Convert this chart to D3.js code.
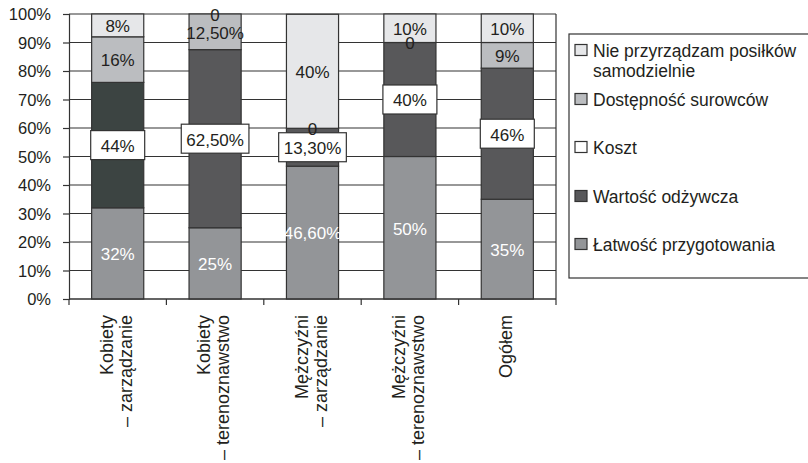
<!DOCTYPE html>
<html>
<head>
<meta charset="utf-8">
<script src="https://cdn.jsdelivr.net/npm/d3@7"></script>
<style>
  body { margin: 0; background: #fff; }
  svg { display: block; font-family: "Liberation Sans", Arial, sans-serif; }
</style>
</head>
<body>
<div id="chart"></div>
<script>
// categories (two-line axis labels)
var categories = ["Kobiety – zarządzanie", "Kobiety – terenoznawstwo", "Mężczyźni – zarządzanie", "Mężczyźni – terenoznawstwo", "Ogółem"];
var categoryLines = [["Kobiety", "– zarządzanie"], ["Kobiety", "– terenoznawstwo"], ["Mężczyźni", "– zarządzanie"], ["Mężczyźni", "– terenoznawstwo"], ["Ogółem"]];

// series values (%), bottom to top
var latwosc = [32, 25, 46.6, 50, 35];
var wartosc = [44, 62.5, 13.3, 40, 46];
var dostepnosc = [16, 12.5, 0, 0, 9];
var nieprzyrzadzam = [8, 0, 40, 10, 10];

var yTicks = [0, 10, 20, 30, 40, 50, 60, 70, 80, 90, 100];

var series = [
    {name: "Łatwość przygotowania", values: latwosc, color: "#939598", text: "#fff"},
    {name: "Wartość odżywcza", values: wartosc, color: "#58585a", text: "#231f20", boxed: true},
    {name: "Dostępność surowców", values: dostepnosc, color: "#bbbdc0", text: "#231f20"},
    {name: "Nie przyrządzam posiłków samodzielnie", values: nieprzyrzadzam, color: "#e6e7e9", text: "#231f20"}
];

// legend order (top to bottom)
var legendItems = [
    {lines: ["Nie przyrządzam posiłków", "samodzielnie"], color: "#e6e7e9"},
    {lines: ["Dostępność surowców"], color: "#bbbdc0"},
    {lines: ["Koszt"], color: "#ffffff"},
    {lines: ["Wartość odżywcza"], color: "#58585a"},
    {lines: ["Łatwość przygotowania"], color: "#939598"}
];

var W = 808, H = 463;
var pLeft = 69, pRight = 556, pTop = 14, pBottom = 299;
var ink = "#231f20", lineCol = "#333";

var svg = d3.select("#chart").append("svg")
    .attr("width", W)
    .attr("height", H);

var x = d3.scaleBand()
    .domain(categories)
    .range([pLeft, pRight])
    .paddingInner(0.465)
    .paddingOuter(0.2325);

var y = d3.scaleLinear()
    .domain([0, 100])
    .range([pBottom, pTop]);

function fmt(v) {
    if (v === 0) return "0";
    if (Math.round(v) === v) return v + "%";
    return v.toFixed(2).replace(".", ",") + "%";
}

// gridlines
svg.append("g").selectAll("line")
    .data(yTicks)
    .enter()
    .append("line")
    .attr("x1", pLeft).attr("x2", pRight)
    .attr("y1", function(d){ return y(d); })
    .attr("y2", function(d){ return y(d); })
    .attr("stroke", lineCol)
    .attr("stroke-width", 1.2);

// right border
svg.append("line")
    .attr("x1", pRight).attr("x2", pRight)
    .attr("y1", pTop).attr("y2", pBottom)
    .attr("stroke", lineCol).attr("stroke-width", 1.2);

// y axis
var yAxis = svg.append("g")
    .attr("transform", "translate(" + pLeft + ",0)")
    .call(d3.axisLeft(y).tickValues(yTicks).tickSize(6).tickPadding(12)
        .tickFormat(function(d){ return d + "%"; }));
yAxis.select(".domain").attr("stroke", lineCol).attr("stroke-width", 1.2);
yAxis.selectAll(".tick line").attr("stroke", lineCol).attr("stroke-width", 1.2);
yAxis.selectAll("text")
    .attr("fill", ink)
    .attr("dy", "0.36em")
    .style("font-size", "16.5px")
    .style("font-family", "Liberation Sans, Arial, sans-serif");

// stacked bars
var stacks = categories.map(function(c, i){
    var base = 0;
    return series.map(function(s, j){
        var v = s.values[i];
        var seg = {cat: c, i: i, s: s, j: j, y0: base, y1: base + v, v: v};
        base += v;
        return seg;
    });
});
var segs = [].concat.apply([], stacks);

svg.append("g").selectAll("rect")
    .data(segs.filter(function(d){ return d.v > 0; }))
    .enter()
    .append("rect")
    .attr("x", function(d){ return x(d.cat); })
    .attr("width", x.bandwidth())
    .attr("y", function(d){ return y(d.y1); })
    .attr("height", function(d){ return y(d.y0) - y(d.y1); })
    .attr("fill", function(d){
        // first bar's dark segment is printed a little darker
        if (d.j === 1 && d.i === 0) return "#3c4442";
        return d.s.color;
    })
    .attr("stroke", lineCol)
    .attr("stroke-width", 1.2);

// x axis
svg.append("line")
    .attr("x1", pLeft).attr("x2", pRight)
    .attr("y1", pBottom).attr("y2", pBottom)
    .attr("stroke", lineCol).attr("stroke-width", 1.2);
var step = x.step();
svg.append("g").selectAll("line")
    .data(d3.range(categories.length + 1))
    .enter()
    .append("line")
    .attr("x1", function(d){ return pLeft + d * step; })
    .attr("x2", function(d){ return pLeft + d * step; })
    .attr("y1", pBottom).attr("y2", pBottom + 6)
    .attr("stroke", lineCol).attr("stroke-width", 1.2);

// category labels, rotated
var xl = svg.append("g").selectAll("g")
    .data(categories)
    .enter()
    .append("g");
xl.each(function(c, i){
    var cx = x(c) + x.bandwidth() / 2;
    var lines = categoryLines[i];
    var offs = lines.length === 1 ? [5] : [-5, 14];
    var g = d3.select(this);
    lines.forEach(function(t, k){
        g.append("text")
            .attr("transform", "translate(" + (cx + offs[k]) + "," + (pBottom + 16) + ") rotate(-90)")
            .attr("text-anchor", "end")
            .attr("fill", ink)
            .style("font-size", "18px")
            .text(t);
    });
});

// data labels
var lab = svg.append("g").selectAll("g")
    .data(segs)
    .enter()
    .append("g")
    .attr("transform", function(d){
        return "translate(" + (x(d.cat) + x.bandwidth() / 2) + "," + y((d.y0 + d.y1) / 2) + ")";
    });
lab.each(function(d){
    var g = d3.select(this);
    var t = g.append("text")
        .attr("text-anchor", "middle")
        .attr("dy", "0.4em")
        .attr("fill", d.s.text)
        .style("font-size", "17px")
        .text(fmt(d.v));
    if (d.s.boxed) {
        var tw = t.node().getComputedTextLength();
        var bw = Math.max(tw + 10, 54);
        g.insert("rect", "text")
            .attr("x", -bw / 2)
            .attr("y", -14.5)
            .attr("width", bw)
            .attr("height", 29)
            .attr("fill", "#fff")
            .attr("stroke", lineCol)
            .attr("stroke-width", 1.2);
    }
});

// legend
svg.append("rect")
    .attr("x", 569).attr("y", 34)
    .attr("width", 260).attr("height", 244)
    .attr("fill", "#fff")
    .attr("stroke", lineCol)
    .attr("stroke-width", 1.2);

var legendY = [50, 99, 147, 196, 244];
var lg = svg.append("g").selectAll("g")
    .data(legendItems)
    .enter()
    .append("g")
    .attr("transform", function(d, i){ return "translate(575," + legendY[i] + ")"; });
lg.append("rect")
    .attr("x", 0).attr("y", -5.5)
    .attr("width", 12).attr("height", 11)
    .attr("fill", function(d){ return d.color; })
    .attr("stroke", lineCol)
    .attr("stroke-width", 1.2);
lg.each(function(d){
    var g = d3.select(this);
    d.lines.forEach(function(t, k){
        g.append("text")
            .attr("x", 18)
            .attr("y", 6.5 + k * 20)
            .attr("fill", ink)
            .style("font-size", "17.5px")
            .text(t);
    });
});
</script>
</body>
</html>
